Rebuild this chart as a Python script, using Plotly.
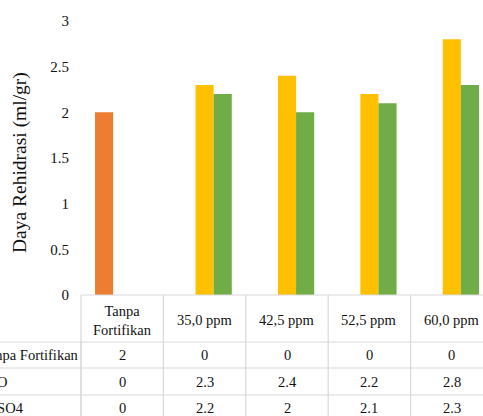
import plotly.graph_objects as go

# Categories (header row of the data table) and series values
categories = ["Tanpa<br>Fortifikan", "35,0 ppm", "42,5 ppm", "52,5 ppm", "60,0 ppm"]
series_names = ["Tanpa Fortifikan", "ZnO", "ZnSO4"]
tanpa = [2, 0, 0, 0, 0]
zno = [0, 2.3, 2.4, 2.2, 2.8]
znso4 = [0, 2.2, 2, 2.1, 2.3]
series_values = [tanpa, zno, znso4]
colors = ["#ED7D31", "#FFC000", "#70AD47"]

W, H = 483, 416
ML, MR, MT, MB = 81, 0, 21, 121
PW, PH = W - ML - MR, H - MT - MB
CAT_W = 82.4
X0 = -0.5
X1 = X0 + PW / CAT_W

FONT = "Liberation Serif"
GRID = "#d9d9d9"


def px_x(px):
    """pixel column -> paper x"""
    return (px - ML) / PW


def px_y(py):
    """pixel row -> paper y"""
    return (H - MB - py) / PH


def cat_x(v):
    """category coordinate -> paper x"""
    return (v - X0) / (X1 - X0)


fig = go.Figure()
for name, vals, col in zip(series_names, series_values, colors):
    fig.add_trace(go.Bar(
        x=list(range(len(categories))), y=vals, name=name,
        marker=dict(color=col, line=dict(width=0)),
    ))

shapes = []
# axis line / top of the data table
shapes.append(dict(type="line", xref="paper", yref="paper", x0=0, x1=1.05,
                   y0=0, y1=0, line=dict(color=GRID, width=1.2)))
# row separators of the data table
row_lines = [342, 368, 395]
for py in row_lines:
    shapes.append(dict(type="line", xref="paper", yref="paper",
                       x0=px_x(-5), x1=1.05, y0=px_y(py), y1=px_y(py),
                       line=dict(color=GRID, width=1.2)))
# column separators on category boundaries
for i in range(len(categories) + 1):
    xb = cat_x(i - 0.5)
    shapes.append(dict(type="line", xref="paper", yref="paper",
                       x0=xb, x1=xb, y0=0, y1=px_y(430),
                       line=dict(color=GRID, width=1.2)))
# left border of the row label column
shapes.append(dict(type="line", xref="paper", yref="paper",
                   x0=0, x1=0, y0=px_y(342), y1=px_y(430),
                   line=dict(color=GRID, width=1.2)))

annotations = []
tfont = dict(family=FONT, size=14.5, color="#111111")
# header row
for i, c in enumerate(categories):
    annotations.append(dict(x=i, y=px_y(320), xref="x", yref="paper", text=c,
                            showarrow=False, font=tfont, xanchor="center",
                            yanchor="middle"))
# value rows
row_centres = [355, 381.5, 408]
for name, vals, py in zip(series_names, series_values, row_centres):
    annotations.append(dict(x=px_x(-21), y=px_y(py), xref="paper", yref="paper",
                            text=name, showarrow=False, font=tfont,
                            xanchor="left", yanchor="middle"))
    for i, v in enumerate(vals):
        annotations.append(dict(x=i, y=px_y(py), xref="x", yref="paper",
                                text=f"{v:g}", showarrow=False, font=tfont,
                                xanchor="center", yanchor="middle"))
# y-axis title
annotations.append(dict(x=px_x(20), y=px_y(163), xref="paper", yref="paper",
                        text="Daya Rehidrasi (ml/gr)", textangle=-90,
                        showarrow=False, xanchor="center", yanchor="middle",
                        font=dict(family=FONT, size=19.5, color="#111111")))

fig.update_layout(
    width=W, height=H,
    margin=dict(l=ML, r=MR, t=MT, b=MB, pad=0),
    paper_bgcolor="white", plot_bgcolor="white",
    barmode="group", bargap=0.34, bargroupgap=0,
    showlegend=False,
    xaxis=dict(range=[X0, X1], showticklabels=False, showgrid=False,
               zeroline=False, showline=False, ticks=""),
    yaxis=dict(range=[0, 3], tickvals=[0, 0.5, 1, 1.5, 2, 2.5, 3],
               ticktext=["0", "0.5", "1", "1.5", "2", "2.5", "3"],
               showgrid=False, zeroline=False, showline=False, ticks="",
               ticklabelstandoff=11,
               tickfont=dict(family=FONT, size=15, color="#111111")),
    shapes=shapes, annotations=annotations,
)

fig.write_html("out.html")
